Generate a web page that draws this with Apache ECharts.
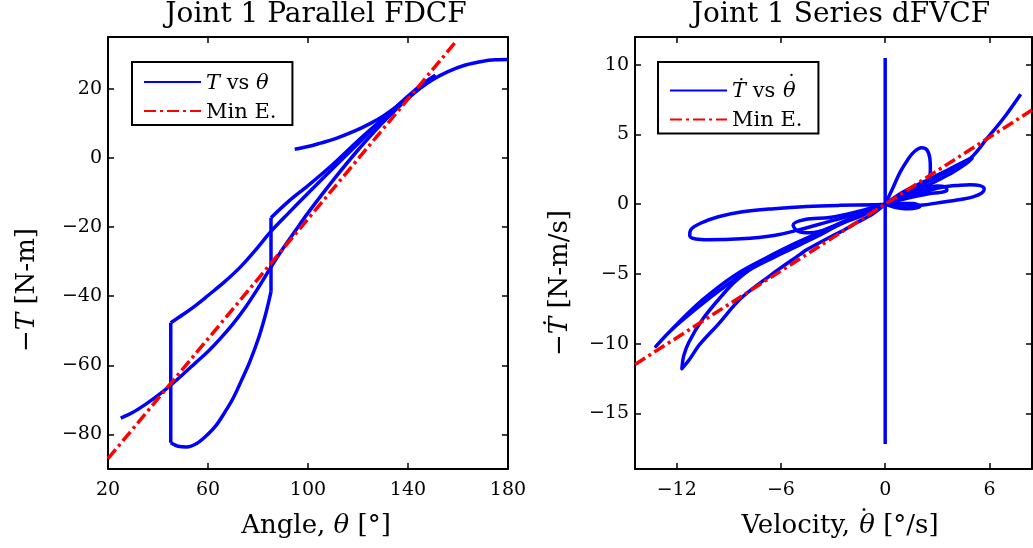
<!DOCTYPE html>
<html>
<head>
<meta charset="utf-8">
<script src="https://cdn.jsdelivr.net/npm/echarts@6.0.0/dist/echarts.min.js"></script>
<style>
html, body { margin: 0; padding: 0; background: #fff; }
#chart { width: 1033px; height: 548px; }
</style>
</head>
<body>
<div id="chart"></div>
<script>
// ---- Joint 1 Parallel FDCF: torque (-T) against angle (theta), drawn as path pieces ----
const angleMainPath = [[25.1,-75.3],[30,-73.6],[35,-71.3],[40,-68.7],[45,-65.8],[50,-62.6],[55,-59.3],[60,-56.0],[65,-52.2],[70,-48.0],[75,-43.2],[80,-37.7],[85,-31.8],[90,-26.2],[95,-21.0],[100,-15.9],[110,-6.5],[120,2.3],[130,10.3],[135,13.9],[140,17.2],[145,20.2],[150,22.7],[156,25.0],[163,26.9],[170,28.0],[175,28.4],[180,28.5]];
const angleBranch = [[94.7,2.5],[100,3.3],[105,4.3],[111,5.6],[119,7.9],[125,10.0],[130,12.1],[135,14.6],[140,17.6],[145,20.6],[151,23.6]];
const angleUpperArc = [[45.1,-47.7],[50,-45.3],[55,-42.7],[60,-39.8],[66.7,-35.8],[73.3,-31.3],[80,-25.8],[85,-21.4],[92,-16.1],[100,-10.2],[110,-3.0],[120,4.1],[130,11.2],[140,17.9],[146,21.5],[151,23.9]];
const angleWedgeReturn = [[151,23.9],[146,21.0],[140,17.6],[130,11.4],[120,5.0],[110,-1.8],[100,-8.0],[92,-12.7],[85.2,-17.3]];
const angleDropHigh = [[85.2,-17.3],[85.2,-38.7]];
const angleLowerArc = [[85.2,-38.7],[83.2,-44.8],[80.5,-51.5],[76.7,-59.0],[73.3,-64.5],[70,-69.6],[66.7,-73.6],[63,-77.6],[59,-80.6],[55.5,-82.6],[51.5,-83.6],[48,-83.4],[45.1,-82.4]];
const angleRiseLow = [[45.1,-82.4],[45.1,-47.7]];
const angleMinE = [[20,-87.0],[159.1,33.6]];

// ---- Joint 1 Series dFVCF: torque rate against velocity ----
const rateSpike = [[0,10.5],[0,-17.2]];
const rateWestLobe = [[0,0],[-0.7,-0.04],[-2.6,-0.08],[-4.5,-0.16],[-6.4,-0.32],[-8.3,-0.56],[-9.6,-0.9],[-10.6,-1.35],[-11.2,-1.85],[-11.25,-2.25],[-10.9,-2.5],[-10.2,-2.55],[-8.3,-2.48],[-6.4,-2.24],[-5.1,-1.88],[-3.35,-1.28],[-1.6,-0.68],[-0.3,-0.08],[0,0]];
const rateBundleTip = [[0,0],[-1.3,-0.8],[-2.6,-1.45],[-3.9,-2.3],[-5.8,-3.45],[-7.8,-4.7],[-9.7,-6.35],[-11.6,-8.25],[-12.45,-9.2],[-13.2,-10.2],[-12.3,-9.0],[-10.5,-6.85],[-8.6,-5.05],[-6.7,-3.75],[-5.3,-2.9],[-4.0,-2.15],[-2.6,-1.35],[-1.3,-0.7],[0,0]];
const rateLowLoop = [[0,0],[-0.7,-0.68],[-1.6,-1.3],[-2.6,-2.0],[-3.0,-2.24],[-4.5,-3.25],[-4.9,-3.6],[-6.6,-5.1],[-8.3,-6.75],[-9.6,-8.6],[-10.7,-10.1],[-11.3,-11.2],[-11.7,-11.8],[-11.6,-10.9],[-11.3,-9.9],[-10.5,-8.24],[-9.4,-6.56],[-8.6,-5.5],[-7.2,-4.16],[-5.5,-3.0],[-3.5,-1.9],[-1.8,-0.95],[0,0]];
const rateSmallLoop = [[0,0],[-1.5,-0.5],[-3.2,-0.95],[-4.6,-1.1],[-5.3,-1.5],[-5.0,-1.95],[-4.3,-2.05],[-3.0,-1.6],[-1.5,-0.8],[0,0]];
const rateTallLobe = [[0,0],[0.4,1.05],[0.86,2.3],[1.3,3.2],[1.7,3.8],[2.1,4.05],[2.4,3.9],[2.57,3.3],[2.6,2.55],[2.5,1.75],[1.9,1.25],[1.0,0.65],[0,0]];
const rateNorthEast = [[0,0],[1.05,0.63],[2.4,1.6],[3.9,2.55],[4.95,3.35],[5.85,4.7],[6.8,6.15],[7.8,7.9]];
const rateNorthEastLoop = [[0,0],[1.2,0.55],[2.6,1.45],[3.9,2.3],[4.7,2.95],[5.0,3.3],[4.6,3.1],[3.6,2.45],[2.2,1.6],[1.0,0.85],[0,0]];
const rateEastLobe = [[0,0],[0.86,-0.13],[2.0,-0.08],[3.35,0.16],[4.5,0.38],[5.1,0.55],[5.55,0.8],[5.7,1.1],[5.45,1.33],[4.9,1.4],[4.3,1.36],[3.35,1.24],[2.4,0.95],[1.2,0.5],[0,0]];
const rateMiniLobe = [[0,0],[1.2,0.4],[2.5,0.75],[3.2,0.85],[3.55,1.0],[3.45,1.25],[3.0,1.3],[2.2,1.1],[1.0,0.55],[0,0]];
const rateDip = [[0,0],[0.5,-0.2],[1.1,-0.32],[1.6,-0.3],[2.0,-0.15],[1.6,0.05],[0.8,0.05],[0,0]];
const rateMinE = [[-14.4,-11.5],[8.45,6.76]];

// ---- tick labels ----
const angleTicks = [20, 60, 100, 140, 180];
const torqueTicks = [-80, -60, -40, -20, 0, 20];
const velocityTicks = [-12, -6, 0, 6];
const rateTicks = [-15, -10, -5, 0, 5, 10];

const FONT = 'DejaVu Serif';
const BLUE = '#0000ff';
const RED = '#ff0000';
const NAME_L = 'T vs θ';
const NAME_R = 'Ṫ vs θ̇';
const NAME_FIT = 'Min E.';
const LINE_W = 3.5;

const minus = v => String(v).replace('-', '\u2212');

function xAxisCfg(grid, min, max, ticks, pos) {
  const labels = pos === 'bottom';
  return {
    gridIndex: grid, type: 'value', min, max, position: pos,
    axisLine: { show: true, onZero: false, lineStyle: { color: '#000', width: 2 } },
    axisTick: { show: true, inside: true, length: 6, customValues: ticks, lineStyle: { color: '#000', width: 1.5 } },
    axisLabel: { show: labels, customValues: ticks, formatter: minus, margin: 12,
      fontFamily: FONT, fontSize: 19, color: '#000' },
    splitLine: { show: false }
  };
}
function yAxisCfg(grid, min, max, ticks, pos) {
  const labels = pos === 'left';
  return {
    gridIndex: grid, type: 'value', min, max, position: pos,
    axisLine: { show: true, onZero: false, lineStyle: { color: '#000', width: 2 } },
    axisTick: { show: true, inside: true, length: 6, customValues: ticks, lineStyle: { color: '#000', width: 1.5 } },
    axisLabel: { show: labels, customValues: ticks, formatter: minus, margin: 6,
      fontFamily: FONT, fontSize: 19, color: '#000' },
    splitLine: { show: false }
  };
}

function path(name, data, idx, color, smooth, dashed) {
  return {
    type: 'line', name, data, xAxisIndex: idx, yAxisIndex: idx,
    symbol: 'none', showSymbol: false, smooth: smooth ? 0.35 : false,
    clip: true, silent: true,
    lineStyle: { color, width: LINE_W, type: dashed ? [12, 4, 3, 4] : 'solid', cap: 'butt', join: 'round' },
    itemStyle: { color },
    z: dashed ? 5 : 3
  };
}

// over-dot: a narrow token whose glyph (led by thin spaces) spills over the next letter
function dotted(letter, lead) {
  return '{dot|' + '\u2009'.repeat(lead) + '\u02D9}{i|' + letter + '}';
}
function richSet(size, padTop, raise) {
  const p = padTop || 0;
  return {
    i: { fontFamily: FONT, fontSize: size, fontStyle: 'italic', color: '#000', fill: '#000', padding: [p, 0, 0, 0] },
    n: { fontFamily: FONT, fontSize: size, color: '#000', fill: '#000', padding: [p, 0, 0, 0] },
    dot: { fontFamily: FONT, fontSize: size, color: '#000', fill: '#000', width: 1, align: 'left',
           padding: [0, 0, Math.round(size * raise) + p, 0] }
  };
}

const LEG_SIZE = 21;
function legendCfg(left, items) {
  return {
    left, top: 62, orient: 'vertical', data: items,
    itemWidth: 57, itemHeight: 14, itemGap: 8,
    backgroundColor: '#fff', borderColor: '#000', borderWidth: 2, borderRadius: 0,
    padding: [11, 16, 2, 11], selectedMode: false,
    itemStyle: { opacity: 0 },
    textStyle: { fontFamily: FONT, fontSize: LEG_SIZE, color: '#000', rich: richSet(LEG_SIZE, 3, 0.5) },
    formatter: n => n === NAME_L ? '{i|T}{n| vs }{i|θ}'
      : (n === NAME_R ? '{i|Ṫ}{n| vs }' + dotted('θ', 1) : '{n|' + n + '}')
  };
}

function label(text, x, y, size, rotate) {
  return {
    type: 'text', x, y, rotation: rotate ? Math.PI / 2 : 0, silent: true,
    style: {
      text, fill: '#000', font: size + 'px "' + FONT + '"',
      textAlign: 'center', textVerticalAlign: 'middle',
      rich: richSet(size, 0, 0.36)
    }
  };
}

const chart = echarts.init(document.getElementById('chart'), null, { renderer: 'canvas' });
chart.setOption({
  animation: false,
  backgroundColor: '#fff',
  grid: [
    { left: 108, top: 37, width: 400, height: 432 },
    { left: 635, top: 37, width: 397, height: 432 }
  ],
  xAxis: [
    xAxisCfg(0, 20, 180, angleTicks, 'bottom'),
    xAxisCfg(1, -14.4, 8.45, velocityTicks, 'bottom'),
    xAxisCfg(0, 20, 180, angleTicks, 'top'),
    xAxisCfg(1, -14.4, 8.45, velocityTicks, 'top')
  ],
  yAxis: [
    yAxisCfg(0, -90, 35, torqueTicks, 'left'),
    yAxisCfg(1, -19, 12, rateTicks, 'left'),
    yAxisCfg(0, -90, 35, torqueTicks, 'right'),
    yAxisCfg(1, -19, 12, rateTicks, 'right')
  ],
  legend: [
    legendCfg(132, [NAME_L, NAME_FIT]),
    legendCfg(658, [NAME_R, NAME_FIT])
  ],
  graphic: [
    label('Joint 1 Parallel FDCF', 316, 15, 28),
    label('Joint 1 Series dFVCF', 841, 15, 28),
    label('{n|Angle, }{i|θ}{n| [°]}', 316, 526, 26),
    label('{n|Velocity, }' + dotted('θ', 2) + '{n| [°/s]}', 840, 526, 26),
    label('{n|\u2212}{i|T}{n| [N-m]}', 27, 290, 26, true),
    label('{n|\u2212}{i|Ṫ}{n| [N-m/s]}', 560, 283, 26, true)
  ],
  series: [
    path(NAME_L, angleMainPath, 0, BLUE, true),
    path(NAME_L, angleBranch, 0, BLUE, true),
    path(NAME_L, angleUpperArc, 0, BLUE, true),
    path(NAME_L, angleWedgeReturn, 0, BLUE, true),
    path(NAME_L, angleDropHigh, 0, BLUE, false),
    path(NAME_L, angleLowerArc, 0, BLUE, true),
    path(NAME_L, angleRiseLow, 0, BLUE, false),
    path(NAME_FIT, angleMinE, 0, RED, false, true),

    path(NAME_R, rateSpike, 1, BLUE, false),
    path(NAME_R, rateWestLobe, 1, BLUE, true),
    path(NAME_R, rateBundleTip, 1, BLUE, true),
    path(NAME_R, rateLowLoop, 1, BLUE, true),
    path(NAME_R, rateSmallLoop, 1, BLUE, true),
    path(NAME_R, rateTallLobe, 1, BLUE, true),
    path(NAME_R, rateNorthEast, 1, BLUE, true),
    path(NAME_R, rateNorthEastLoop, 1, BLUE, true),
    path(NAME_R, rateEastLobe, 1, BLUE, true),
    path(NAME_R, rateMiniLobe, 1, BLUE, true),
    path(NAME_R, rateDip, 1, BLUE, true),
    path(NAME_FIT, rateMinE, 1, RED, false, true)
  ]
});
</script>
</body>
</html>
